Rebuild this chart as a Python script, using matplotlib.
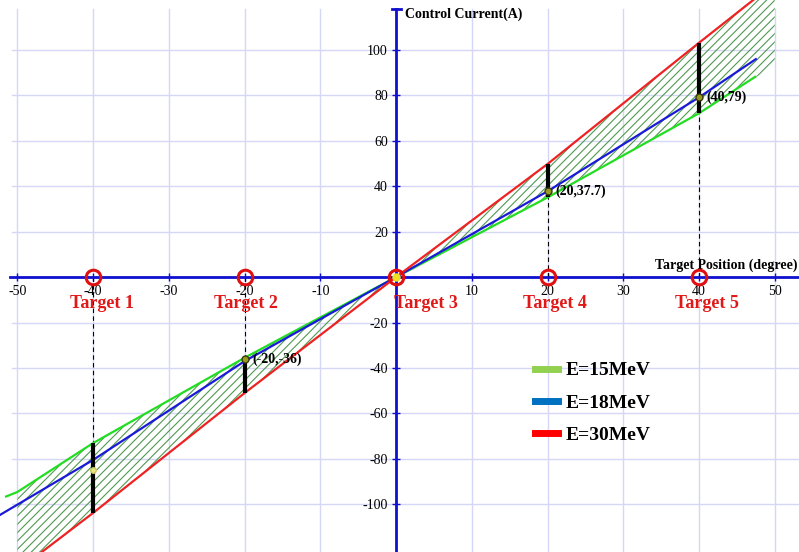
import numpy as np
import matplotlib
matplotlib.use("Agg")
import matplotlib.pyplot as plt
from matplotlib.lines import Line2D

# curves
x_15 = [-51.5, -50, -40, -20, 0, 20, 40, 47.4]
y_15 = [-96.5, -94.5, -73, -35.5, 0, 35, 72, 88]
x_18 = [-52.3, -40, -20, 0, 20, 40, 47.5]
y_18 = [-104.6, -80.4, -37, 0, 37.7, 79, 95.8]
x_30 = [-48, -40, -20, 0, 20, 40, 48]
y_30 = [-124, -103.7, -51, 0, 49.7, 103, 124]

# hatched band between the 15 MeV and 30 MeV curves
band_x = [-50, -40, -20, 0, 20, 40, 50]
band_lo = [-94.5, -73, -35.5, 0, 35, 72, 93]
band_hi = [-130, -103.7, -51, 0, 49.7, 103, 130]

# targets and spread bars
target_x = [-40, -20, 0, 20, 40]
target_names = ["Target 1", "Target 2", "Target 3", "Target 4", "Target 5"]
bar_x = [-40, -20, 20, 40]
bar_lo = [-103.7, -51, 35, 72]
bar_hi = [-73, -36.5, 49.7, 103]
guide_end = [-73, -36, 37.7, 79]
pt_x = [-20, 20, 40]
pt_y = [-36, 37.7, 79]
pt_text = ["(-20,-36)", "(20,37.7)", "(40,79)"]

plt.rcParams['font.family'] = ['Liberation Serif', 'DejaVu Serif']

fig = plt.figure(figsize=(7.99, 5.52), dpi=100)
ax = fig.add_axes([0, 0, 1, 1])
ax.set_xlim(-52.3, 53.2)
ax.set_ylim(-120.9, 121.8)

# grid
for gx in range(-50, 51, 10):
    ax.plot([gx, gx], [-121, 118], color='#d6d6f6', lw=1, zorder=0)
for gy in range(-100, 101, 20):
    ax.plot([-50.7, 53.2], [gy, gy], color='#d6d6f6', lw=1, zorder=0)

# hatched band
plt.rcParams['hatch.linewidth'] = 0.8
ax.fill_between(band_x, band_lo, band_hi, facecolor='none', edgecolor='#4f9a4f',
                hatch='////', linewidth=0, zorder=1)

ax.plot(x_15, y_15, color='#22dd22', lw=1.6, zorder=3)
ax.plot(x_18, y_18, color='#1a1ad8', lw=1.6, zorder=3)
ax.plot(x_30, y_30, color='#ee2222', lw=1.6, zorder=3)

# dashed guides and black bars
for bx, ge in zip(bar_x, guide_end):
    ax.plot([bx, bx], [0, ge], color='black', lw=0.8, ls=(0, (4, 3)), zorder=2)
ax.vlines(bar_x, bar_lo, bar_hi, color='black', lw=3, zorder=4)

ax.plot(pt_x, pt_y, 'o', ms=5, mfc='#9a9a20', mec='#3a3a10', mew=1, zorder=5)
ax.plot([-40], [-85], 'o', ms=4, mfc='#e8e880', mec='#c8c860', zorder=5)
for px, py, t in zip(pt_x, pt_y, pt_text):
    ax.text(px + 1.0, py, t, fontsize=10, fontweight='bold', va='center', ha='left', zorder=6)

# axes through origin
for s in ['top', 'right']:
    ax.spines[s].set_visible(False)
ax.spines['left'].set_position(('data', 0))
ax.spines['bottom'].set_position(('data', 0))
ax.spines['left'].set_bounds(-121, 118)
ax.spines['bottom'].set_bounds(-51, 53.2)
for s in ['left', 'bottom']:
    ax.spines[s].set_color('#1010d0')
    ax.spines[s].set_linewidth(2)
    ax.spines[s].set_zorder(2.5)
ax.plot([-0.6, 0.6], [118, 118], color='#1010d0', lw=2, zorder=3)

xt = [v for v in range(-50, 51, 10) if v != 0]
yt = [v for v in range(-100, 101, 20) if v != 0]
ax.set_xticks(xt)
ax.set_xticklabels([str(v) for v in xt])
ax.set_yticks(yt)
ax.set_yticklabels([str(v) for v in yt])
ax.tick_params(axis='both', direction='inout', length=6, width=1, color='#1010d0',
               labelsize=10, pad=3)

# targets
ax.plot(target_x, [0] * len(target_x), 'o', ms=10.5, mfc='none', mec='#e01010', mew=2.2, zorder=6)
ax.plot([0], [0], 'o', ms=5, mfc='#f0e020', mec='#f0e020', zorder=7)
label_x = [-38.8, -19.8, 4.0, 21.0, 41.0]
for lx, name in zip(label_x, target_names):
    ax.text(lx, -11.5, name, color='#e01818', fontsize=13, fontweight='bold',
            ha='center', va='center', zorder=6)

ax.text(1.2, 115.6, "Control Current(A)", fontsize=10, fontweight='bold', va='center', ha='left')
ax.text(53.0, 5.3, "Target Position (degree)", fontsize=10, fontweight='bold', va='center', ha='right')

handles = [Line2D([], [], color='#92d050', lw=5),
           Line2D([], [], color='#0070c0', lw=5),
           Line2D([], [], color='#ff0000', lw=5)]
ax.legend(handles, ["E=15MeV", "E=18MeV", "E=30MeV"], loc='upper left',
          bbox_to_anchor=(525 / 799, 1 - 352 / 552), frameon=False, borderpad=0,
          handlelength=1.2, handletextpad=0.4, labelspacing=0.75,
          prop={'family': 'Liberation Serif', 'weight': 'bold', 'size': 14})

fig.savefig("out.png", dpi=100)
